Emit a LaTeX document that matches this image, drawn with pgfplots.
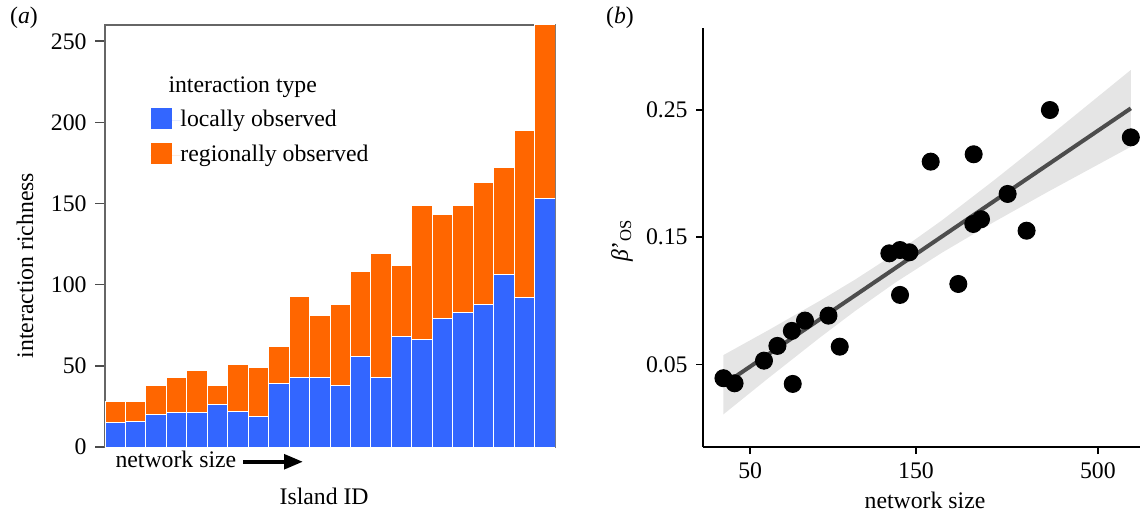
\documentclass[border=0pt]{standalone}
\usepackage{pgfplots}
\pgfplotsset{compat=1.18}
\usepackage{fontspec}
\setmainfont{Liberation Serif}
\usetikzlibrary{arrows.meta}
\definecolor{locC}{HTML}{3366FF}
\definecolor{regC}{HTML}{FF6600}
\definecolor{bandC}{HTML}{E5E5E5}
\definecolor{lineC}{HTML}{4D4D4D}
\begin{document}
\fontsize{9.5}{11.4}\selectfont
\begin{tikzpicture}
\path[use as bounding box] (0,0) rectangle (456pt,204pt);
\begin{axis}[name=A,
 at={(42pt,25.2pt)}, anchor=south west, scale only axis, width=180pt, height=168.8pt,
 ybar stacked, bar width=1,
 xmin=-0.5, xmax=21.5, ymin=0, ymax=260,
 xtick=\empty, ytick={0,50,...,250},
 ytick pos=left, tick align=outside, major tick length=4pt,
 tick style={black!70, line width=0.6pt},
 axis line style={draw=black!60, line width=0.6pt},
 /pgf/number format/assume math mode=true,
 ylabel={interaction richness},
 every axis y label/.style={at={(rel axis cs:0,0.43)}, xshift=-32pt, rotate=90, anchor=center},
 xlabel={Island ID},
 every axis x label/.style={at={(rel axis cs:0.487,0)}, yshift=-19.6pt, anchor=center},
 legend style={draw=none, fill=none, at={(rel axis cs:0.1016,0.803)}, anchor=north west,
   inner sep=0pt, outer sep=0pt, row sep=4.8pt,
   nodes={inner sep=0pt, text height=7pt, text depth=2pt},
   /tikz/every even column/.append style={column sep=0pt}},
 legend cell align=left,
]
\addplot[fill=locC, draw=white, line width=0.4pt,
  legend image code/.code={\fill[locC, draw=none] (0pt,-3.6pt) rectangle (8.4pt,4.8pt); \path[draw=none] (0,0) -- (11.9pt,0);}]
  coordinates {(0,15) (1,16) (2,20) (3,21) (4,21) (5,26) (6,22) (7,19) (8,39) (9,43) (10,43)
   (11,38) (12,56) (13,43) (14,68) (15,66) (16,79) (17,83) (18,88) (19,106) (20,92) (21,153)};
\addlegendentry{locally observed}
\addplot[fill=regC, draw=white, line width=0.4pt,
  legend image code/.code={\fill[regC, draw=none] (0pt,-3.6pt) rectangle (8.4pt,4.8pt); \path[draw=none] (0,0) -- (11.9pt,0);}]
  coordinates {(0,13) (1,12) (2,18) (3,22) (4,26) (5,12) (6,29) (7,30) (8,23) (9,50) (10,38)
   (11,50) (12,52) (13,76) (14,44) (15,83) (16,64) (17,66) (18,75) (19,66) (20,103) (21,107)};
\addlegendentry{regionally observed}
\end{axis}
\node[anchor=base west, inner sep=0pt] at ([xshift=25.2pt,yshift=141.7pt]A.south west) {interaction type};
\node[anchor=base west, inner sep=0pt] at ([xshift=4pt,yshift=-8pt]A.south west) {network size};
\draw[line width=1.6pt, -{Triangle[length=7.6pt,width=5.8pt]}] ([xshift=55.2pt,yshift=-5.9pt]A.south west) -- ([xshift=79.2pt,yshift=-5.9pt]A.south west);
\node[inner sep=0pt] at (9.6pt,196.8pt) {(\textit{a})};
\node[inner sep=0pt] at (248pt,196.8pt) {(\textit{b})};
\begin{axis}[name=B,
 at={(281.2pt,25.2pt)}, anchor=south west, scale only axis, width=174.8pt, height=167.6pt,
 xmode=log, xmin=36.6, xmax=661, ymin=-0.015, ymax=0.3145,
 axis x line*=bottom, axis y line*=left,
 axis line style={line width=0.8pt, -, black},
 xtick={50,150,500}, xticklabels={50,150,500},
 ytick={0.05,0.15,0.25}, yticklabels={0.05,0.15,0.25},
 minor xtick={}, tick align=outside, major tick length=2.8pt,
 tick style={black, line width=0.6pt},
 /pgf/number format/assume math mode=true,
 xlabel={network size},
 every axis x label/.style={at={(rel axis cs:0.508,0)}, yshift=-21.2pt, anchor=center},
 ylabel={\textit{β}'\textsubscript{OS}},
 every axis y label/.style={at={(rel axis cs:0,0.494)}, xshift=-32.4pt, rotate=90, anchor=center},
 clip=false,
]
\addplot[fill=bandC, draw=none] coordinates {
 (41.9,0.0573) (56.2,0.0766) (79.4,0.1000) (100,0.1165) (130.4,0.1369) (177.8,0.1631)
 (251.2,0.1947) (354.8,0.2273) (622,0.2815)
 (622,0.2211) (354.8,0.1849) (251.2,0.1619) (177.8,0.1377) (130.4,0.1141) (100,0.0918)
 (79.4,0.0711) (56.2,0.0388) (41.9,0.0107)} -- cycle;
\addplot[lineC, line width=1.6pt] coordinates {(41.9,0.034) (622,0.2513)};
\addplot[only marks, mark=*, mark size=3.4pt, black] coordinates {
 (41.9,0.0391) (45.1,0.0351) (54.8,0.0529) (59.9,0.0645) (65.9,0.0763) (66.3,0.0346)
 (71.9,0.0844) (84.0,0.0883) (90.5,0.0639) (125.7,0.1373) (134.9,0.1399) (143.5,0.1381)
 (134.9,0.1046) (198.5,0.1132) (165.3,0.2094) (219.7,0.2152) (219.1,0.1604) (230.6,0.1641)
 (275.1,0.1840) (311.9,0.1551) (364.0,0.2500) (622.0,0.2285)};
\end{axis}
\end{tikzpicture}
\end{document}
